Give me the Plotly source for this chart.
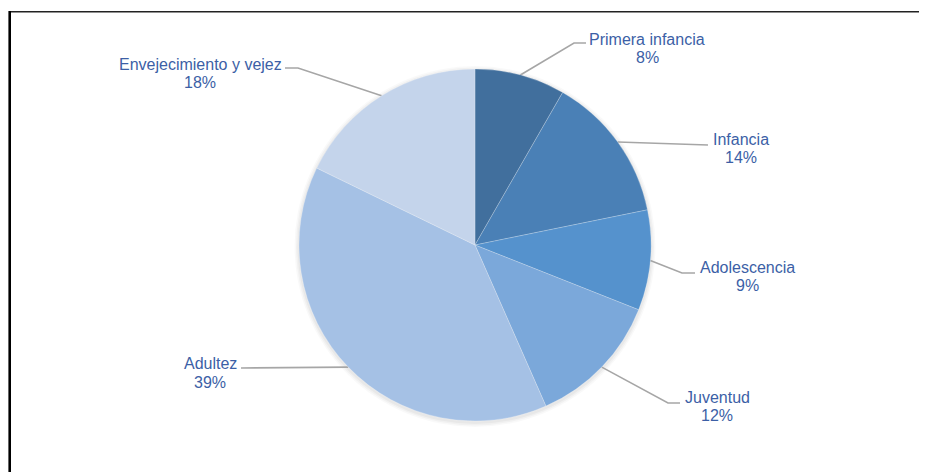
import math
import plotly.graph_objects as go

# ---- data ----
categories = ["Primera infancia", "Infancia", "Adolescencia", "Juventud", "Adultez", "Envejecimiento y vejez"]
shares = [8.3, 13.5, 9.2, 12.4, 38.8, 17.8]
colors = ["#416f9d", "#4a80b6", "#5592cd", "#7ba8da", "#a5c1e5", "#c4d4eb"]

# ---- layout constants (screen pixels) ----
W, H = 927, 472
OFF = 8  # page body margin offset
CX, CY, R = 475, 245, 176
# label centre x, name-line y, pct-line y
label_pos = [(647, 39, 57), (741, 139, 157), (747, 267, 285), (717, 397, 415), (210, 363, 382), (200, 64, 82)]
# elbow point of leader line (None = straight) and end point
elbows = [(574, 43), None, (682, 273), (668, 403), None, (298, 68)]
ends = [(586, 43), (708, 145), (695, 273), (680, 403), (241, 368), (285, 68)]

TEXT_COLOR = "#3c5fa6"
LINE_COLOR = "#a6a6a6"
FONT = "Liberation Sans, Arial, sans-serif"
FS = 16

fig = go.Figure()

# subtle shadow
for i, a in enumerate([0.035, 0.03, 0.025]):
    rr = R + 1.5 + i * 1.5
    fig.add_shape(type="circle", xref="x", yref="y", layer="below",
                  x0=CX - rr, x1=CX + rr, y0=CY - rr + 1.5, y1=CY + rr + 1.5,
                  fillcolor=f"rgba(0,0,0,{a})", line=dict(width=0))

fig.add_trace(go.Pie(
    labels=categories, values=shares, sort=False, direction="clockwise", rotation=0,
    marker=dict(colors=colors, line=dict(color="rgba(255,255,255,0.45)", width=0.5)),
    textinfo="none", hoverinfo="label+percent", showlegend=False,
    domain=dict(x=[(CX - OFF - R) / W, (CX - OFF + R) / W],
                y=[(H - (CY - OFF) - R) / H, (H - (CY - OFF) + R) / H]),
))

total = sum(shares)
cum = 0.0
for i, (name, v) in enumerate(zip(categories, shares)):
    mid = (cum + v / 2) / total * 2 * math.pi
    cum += v
    ex = CX + R * math.sin(mid)
    ey = CY - R * math.cos(mid)
    xs, ys = [ex], [ey]
    if elbows[i] is not None:
        xs.append(elbows[i][0]); ys.append(elbows[i][1])
    xs.append(ends[i][0]); ys.append(ends[i][1])
    fig.add_trace(go.Scatter(x=xs, y=ys, mode="lines", line=dict(color=LINE_COLOR, width=1.6),
                             hoverinfo="skip", showlegend=False))
    lx, ny, py = label_pos[i]
    pct = f"{round(v / total * 100)}%"
    fig.add_annotation(x=lx, y=ny, text=name, showarrow=False, xref="x", yref="y",
                       font=dict(family=FONT, size=FS, color=TEXT_COLOR), xanchor="center", yanchor="middle")
    fig.add_annotation(x=lx, y=py, text=pct, showarrow=False, xref="x", yref="y",
                       font=dict(family=FONT, size=FS, color=TEXT_COLOR), xanchor="center", yanchor="middle")

# frame (cropped chart border: top and left edges)
fig.add_shape(type="line", xref="x", yref="y", x0=9.5, x1=W + 20, y0=11.8, y1=11.8,
              line=dict(color="#222222", width=1.6))
fig.add_shape(type="line", xref="x", yref="y", x0=9.7, x1=9.7, y0=11, y1=H + 20,
              line=dict(color="#000000", width=2.6))

fig.update_xaxes(range=[OFF, W + OFF], visible=False, fixedrange=True)
fig.update_yaxes(range=[H + OFF, OFF], visible=False, fixedrange=True)
fig.update_layout(width=W, height=H, margin=dict(l=0, r=0, t=0, b=0),
                  paper_bgcolor="white", plot_bgcolor="rgba(0,0,0,0)", showlegend=False)

fig.write_html("out.html")
